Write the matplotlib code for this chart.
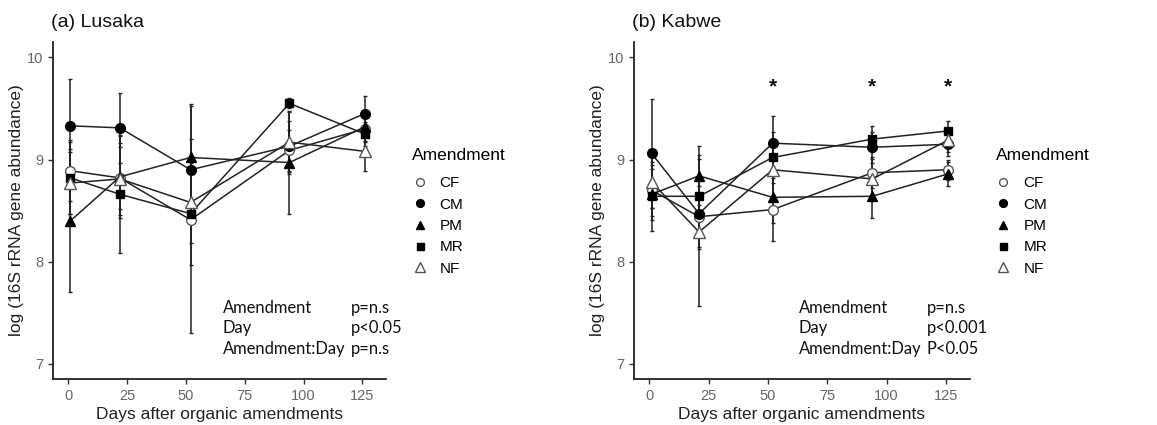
import matplotlib
matplotlib.use("Agg")
import matplotlib.pyplot as plt
import numpy as np

plt.rcParams['font.family'] = ['Liberation Sans', 'DejaVu Sans']

treatments = ["CF", "CM", "PM", "MR", "NF"]

# Lusaka
days_lus = [1, 22, 52, 94, 126]
lus_mean = {
    "CF": [8.89, 8.82, 8.41, 9.09, 9.30],
    "CM": [9.33, 9.31, 8.90, 9.13, 9.45],
    "PM": [8.40, 8.83, 9.02, 8.97, 9.32],
    "MR": [8.82, 8.66, 8.47, 9.55, 9.25],
    "NF": [8.77, 8.81, 8.58, 9.17, 9.08],
}
lus_err = {
    "CF": [0.30, 0.30, 1.11, 0.20, 0.12],
    "CM": [0.46, 0.34, 0.30, 0.25, 0.17],
    "PM": [0.70, 0.40, 0.52, 0.50, 0.15],
    "MR": [0.35, 0.58, 0.50, 0.05, 0.12],
    "NF": [0.30, 0.35, 0.40, 0.31, 0.19],
}

# Kabwe
days_kab = [1, 21, 52, 94, 126]
kab_mean = {
    "CF": [8.70, 8.44, 8.51, 8.87, 8.90],
    "CM": [9.06, 8.47, 9.16, 9.12, 9.15],
    "PM": [8.66, 8.84, 8.63, 8.64, 8.86],
    "MR": [8.64, 8.64, 9.02, 9.20, 9.28],
    "NF": [8.78, 8.29, 8.90, 8.81, 9.19],
}
kab_err = {
    "CF": [0.25, 0.30, 0.31, 0.15, 0.10],
    "CM": [0.53, 0.35, 0.27, 0.15, 0.12],
    "PM": [0.25, 0.29, 0.25, 0.21, 0.12],
    "MR": [0.34, 0.40, 0.25, 0.13, 0.10],
    "NF": [0.25, 0.72, 0.30, 0.20, 0.12],
}

signif_days = [52, 94, 126]
signif_y = 9.71

titles = ["(a) Lusaka", "(b) Kabwe"]
stats_lus = [("Amendment", "p=n.s"), ("Day", "p<0.05"), ("Amendment:Day", "p=n.s")]
stats_kab = [("Amendment", "p=n.s"), ("Day", "p<0.001"), ("Amendment:Day", "P<0.05")]
xticks = [0, 25, 50, 75, 100, 125]
yticks = [7, 8, 9, 10]

styles = {
    "CF": dict(marker="o", mfc="white", mec="#555555", ms=7),
    "CM": dict(marker="o", mfc="black", mec="black", ms=7),
    "PM": dict(marker="^", mfc="black", mec="black", ms=7.5),
    "MR": dict(marker="s", mfc="black", mec="black", ms=6.3),
    "NF": dict(marker="^", mfc="white", mec="#555555", ms=8.5),
}

fig = plt.figure(figsize=(11.57, 4.25), dpi=100)
axes = [fig.add_axes([0.0458, 0.108, 0.2878, 0.793]),
        fig.add_axes([0.548, 0.108, 0.290, 0.793])]

datasets = [(days_lus, lus_mean, lus_err, stats_lus), (days_kab, kab_mean, kab_err, stats_kab)]

for i, (ax, (days, means, errs, stats)) in enumerate(zip(axes, datasets)):
    for t in treatments:
        st = styles[t]
        ax.errorbar(days, means[t], yerr=errs[t], color="#222222", lw=1.1,
                    elinewidth=1.1, capsize=1.5, capthick=0.8,
                    marker=st["marker"], mfc=st["mfc"], mec=st["mec"], ms=st["ms"],
                    mew=1.0, zorder=3)
    ax.set_xlim(-6.4, 135)
    ax.set_ylim(6.85, 10.15)
    ax.set_xticks(xticks)
    ax.set_yticks(yticks)
    for s in ["top", "right"]:
        ax.spines[s].set_visible(False)
    for s in ["left", "bottom"]:
        ax.spines[s].set_color("#222222")
        ax.spines[s].set_linewidth(1.3)
    ax.tick_params(axis="both", colors="#333333", labelcolor="#666666",
                   labelsize=10.5, length=3.5, width=1)
    ax.set_xlabel("Days after organic amendments", fontsize=12.5, color="#222222", labelpad=3)
    ax.set_ylabel("log (16S rRNA gene abundance)", fontsize=12.5, color="#222222", labelpad=2)
    ax.text(-0.005, 1.059, titles[i], transform=ax.transAxes, fontsize=14,
            ha="left", va="center", color="#111111")

    # stats text
    x_lab = 223 if i == 0 else 799
    x_p = 351 if i == 0 else 927
    for k, (lab, p) in enumerate(stats):
        ypix = 308 + k * 20.5
        fig.text(x_lab / 1157, 1 - ypix / 425, lab, fontsize=11.9, family="Lato",
                 va="center", ha="left", color="#111111")
        fig.text(x_p / 1157, 1 - ypix / 425, p, fontsize=11.9, family="Lato",
                 va="center", ha="left", color="#111111")

    # legend
    handles = [plt.Line2D([], [], ls="none", marker=styles[t]["marker"],
                          mfc=styles[t]["mfc"], mec=styles[t]["mec"],
                          ms=styles[t]["ms"] * 0.8, mew=1.0) for t in treatments]
    leg = ax.legend(handles, treatments, title="Amendment", loc="upper left",
                    bbox_to_anchor=(1.06, 0.705), frameon=False, fontsize=11,
                    title_fontsize=12.5, handletextpad=0.8, labelspacing=0.48,
                    handlelength=1.0, borderaxespad=0)
    leg._legend_box.align = "left"
    leg._legend_box.sep = 10

for d in signif_days:
    axes[1].text(d, signif_y, "*", ha="center", va="center", fontsize=15,
                 fontweight="bold", color="#111111")

fig.savefig("out.png", dpi=100)
